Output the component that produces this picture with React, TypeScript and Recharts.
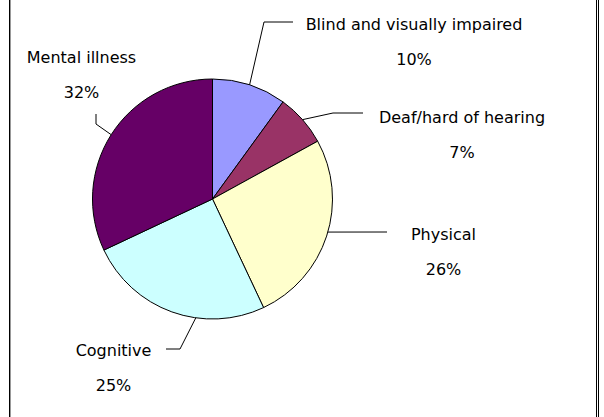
import React from "react";
import { PieChart, Pie, Cell } from "recharts";

const categories = [
  "Blind and visually impaired",
  "Deaf/hard of hearing",
  "Physical",
  "Cognitive",
  "Mental illness",
];
const percentages = [10, 7, 26, 25, 32];
const colors = ["#9999FF", "#993366", "#FFFFCC", "#CCFFFF", "#660066"];

// label layout (offsets from pie centre): text centre, elbow of leader, end of leader,
// optional anchor angle on the rim (degrees clockwise from 12 o'clock)
const labelLayout = [
  { tx: 201.5, ty: -175, ex: 51.5, ey: -177, hx: 80.5, hy: -177, aa: null },
  { tx: 249.5, ty: -82, ex: 120.5, ey: -86, hx: 150.5, hy: -86, aa: null },
  { tx: 231, ty: 35, ex: null, ey: null, hx: 174.5, hy: 33, aa: 106 },
  { tx: -99, ty: 151, ex: -32.5, ey: 150, hx: -46.5, hy: 150, aa: 188 },
  { tx: -131, ty: -142, ex: -116.5, ey: -75, hx: -116.5, hy: -85, aa: null },
];

const data = categories.map((name, i) => ({ name, value: percentages[i] }));

const FONT = "DejaVu Sans";
const RAD = Math.PI / 180;

const renderLabel = (props: any) => {
  const { cx, cy, midAngle, outerRadius, index, name, value } = props;
  const L = labelLayout[index];
  const ang = L.aa !== null ? 90 - (L.aa as number) : midAngle;
  const sx = cx + outerRadius * Math.cos(-ang * RAD);
  const sy = cy + outerRadius * Math.sin(-ang * RAD);
  const pts: string[] = [`${sx},${sy}`];
  if (L.ex !== null) pts.push(`${cx + L.ex},${cy + (L.ey as number)}`);
  pts.push(`${cx + L.hx},${cy + L.hy}`);
  return (
    <g key={`lbl-${index}`}>
      <polyline points={pts.join(" ")} fill="none" stroke="#000" strokeWidth={1} />
      <text
        x={cx + L.tx}
        y={cy + L.ty}
        textAnchor="middle"
        dominantBaseline="central"
        fontFamily={FONT}
        fontSize={16}
        fill="#000"
      >
        {name}
      </text>
      <text
        x={cx + L.tx}
        y={cy + L.ty + 35}
        textAnchor="middle"
        dominantBaseline="central"
        fontFamily={FONT}
        fontSize={16}
        fill="#000"
      >
        {`${value}%`}
      </text>
    </g>
  );
};

export default function App() {
  return (
    <div
      style={{
        position: "absolute",
        left: 0,
        top: 0,
        width: 604,
        height: 417,
        background: "#fff",
        overflow: "hidden",
      }}
    >
      <div style={{ position: "absolute", left: 9, top: 0, width: 1, height: 417, background: "#000" }} />
      <div style={{ position: "absolute", left: 10, top: 0, width: 1, height: 417, background: "#999" }} />
      <div style={{ position: "absolute", left: 596, top: 0, width: 1, height: 417, background: "#000" }} />
      <div style={{ position: "absolute", left: 598, top: 0, width: 1, height: 417, background: "#000" }} />
      <PieChart
        width={604}
        height={417}
        margin={{ top: 0, right: 0, bottom: 0, left: 0 }}
        style={{ position: "absolute", left: 0, top: 0 }}
      >
        <Pie
          data={data}
          dataKey="value"
          nameKey="name"
          cx={212.5}
          cy={199}
          outerRadius={120}
          startAngle={90}
          endAngle={-270}
          stroke="#000"
          strokeWidth={1}
          label={renderLabel}
          labelLine={false}
          isAnimationActive={false}
        >
          {data.map((d, i) => (
            <Cell key={d.name} fill={colors[i]} />
          ))}
        </Pie>
      </PieChart>
    </div>
  );
}
